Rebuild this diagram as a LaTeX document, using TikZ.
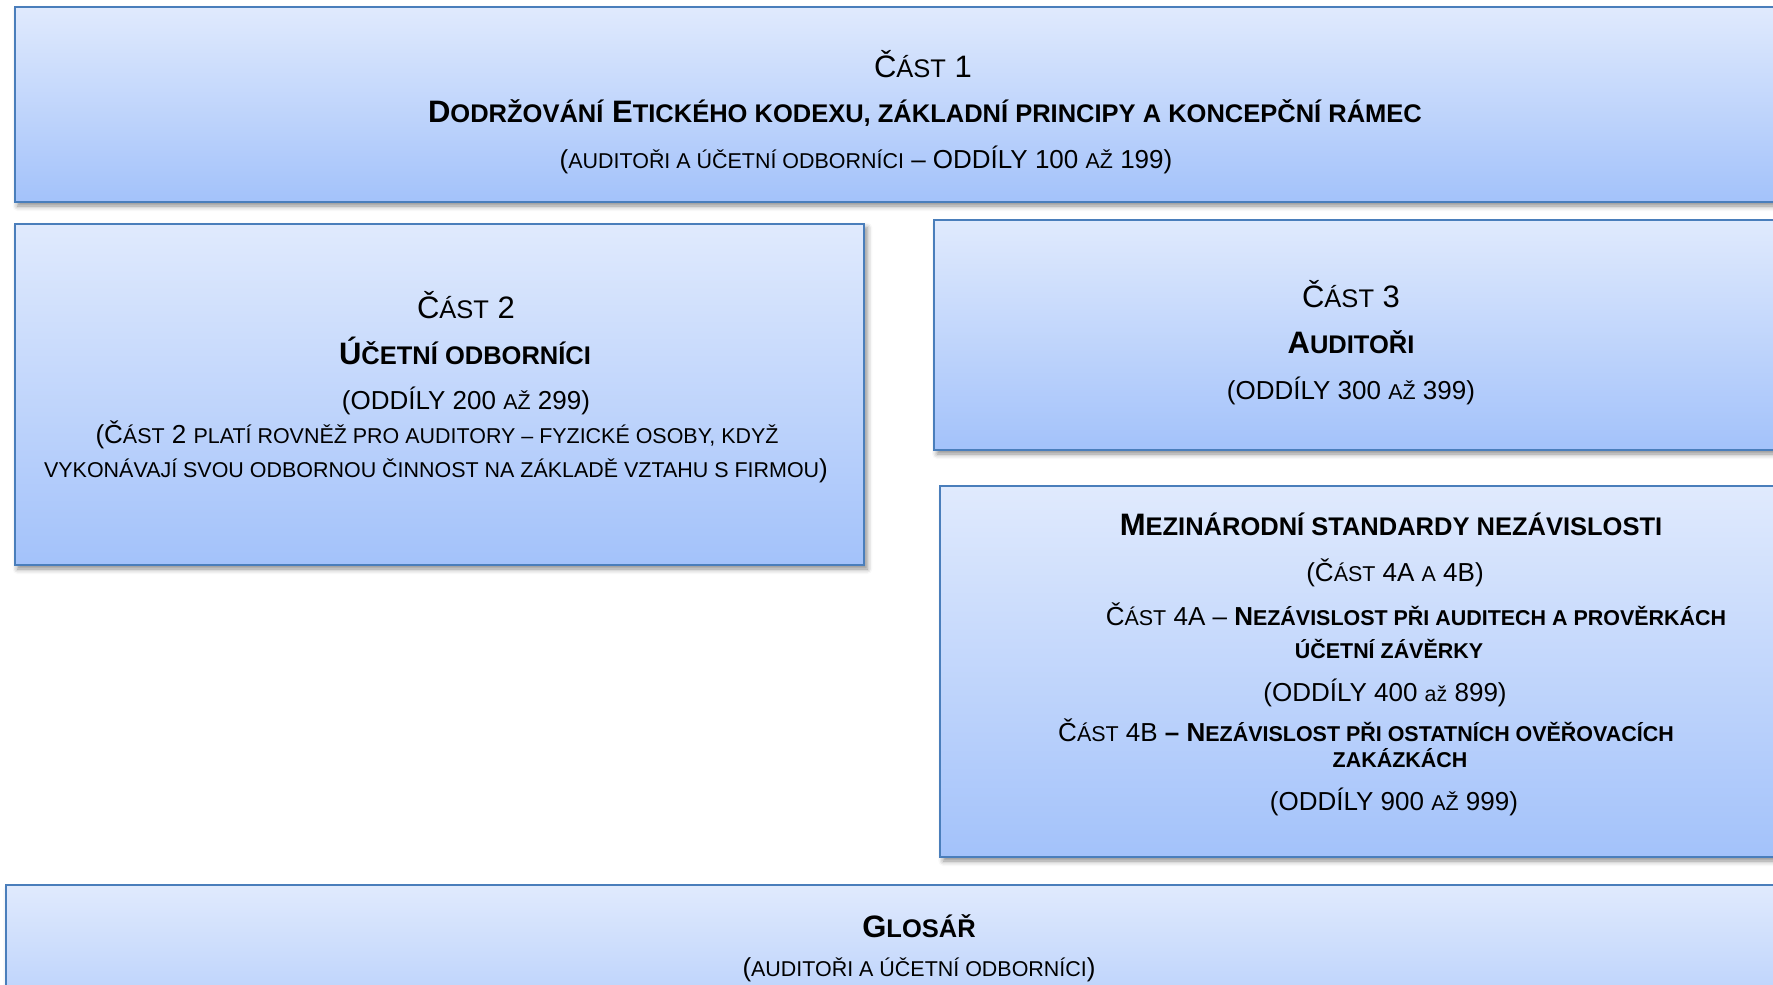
\documentclass[tikz,border=0pt]{standalone}
\usepackage{fontspec}
\setmainfont{Liberation Sans}
\usetikzlibrary{shadows.blur}
\definecolor{boxtop}{HTML}{E0EAFD}
\definecolor{boxbot}{HTML}{A3C2FA}
\definecolor{boxline}{HTML}{4A7EBB}
\newcommand\T{\fontsize{31}{37}\selectfont}
\newcommand\N{\fontsize{26}{31}\selectfont}
\newcommand\tsc[1]{{\fontsize{25.5}{30}\selectfont #1}}
\newcommand\nsc[1]{{\fontsize{21.45}{26}\selectfont #1}}
\tikzset{
  panel/.style={draw=boxline, line width=2pt, top color=boxtop, bottom color=boxbot,
    inner sep=0pt, anchor=north west,
    blur shadow={shadow xshift=3pt, shadow yshift=-4pt, shadow blur radius=5pt, shadow opacity=45}},
  txt/.style={anchor=base, inner sep=0pt, text=black}
}
\begin{document}
\begin{tikzpicture}[x=1pt, y=-1pt]
\useasboundingbox (0,0) rectangle (1773,985);
\clip (0,0) rectangle (1773,985);
% panels
\node[panel, minimum width=1821pt, minimum height=195.5pt] (b1) at (13.5,5.5) {};
\node[panel, minimum width=849.8pt, minimum height=341.3pt] (b2) at (13.5,222.7) {};
\node[panel, minimum width=902pt, minimum height=230pt] (b3) at (933,219) {};
\node[panel, minimum width=896pt, minimum height=371pt] (b4) at (939.3,485) {};
\node[panel, minimum width=1831pt, minimum height=196pt] (b5) at (4.5,884) {};
% box 1
\node[txt] (t11) at (923,77) {\T Č\tsc{ÁST} 1};
\node[txt] (t12) at (925,122) {\T\bfseries D\tsc{ODRŽOVÁNÍ} E\tsc{TICKÉHO KODEXU, ZÁKLADNÍ PRINCIPY A KONCEPČNÍ RÁMEC}};
\node[txt] (t13) at (866,168) {\N (\nsc{AUDITOŘI A ÚČETNÍ ODBORNÍCI} – ODDÍLY 100 \nsc{AŽ} 199)};
% box 2
\node[txt] (t21) at (466,318) {\T Č\tsc{ÁST} 2};
\node[txt] (t22) at (465,364) {\T\bfseries Ú\tsc{ČETNÍ ODBORNÍCI}};
\node[txt] (t23) at (466,409) {\N (ODDÍLY 200 \nsc{AŽ} 299)};
\node[txt] (t24) at (437,443) {\N (Č\nsc{ÁST} 2 \nsc{PLATÍ ROVNĚŽ PRO AUDITORY – FYZICKÉ OSOBY, KDYŽ}};
\node[txt] (t25) at (436,477) {\N \nsc{VYKONÁVAJÍ SVOU ODBORNOU ČINNOST NA ZÁKLADĚ VZTAHU S FIRMOU})};
% box 3
\node[txt] (t31) at (1351,307.5) {\T Č\tsc{ÁST} 3};
\node[txt] (t32) at (1351,353) {\T\bfseries A\tsc{UDITOŘI}};
\node[txt] (t33) at (1351,399) {\N (ODDÍLY 300 \nsc{AŽ} 399)};
% box 4
\node[txt] (t41) at (1391,535) {\T\bfseries M\tsc{EZINÁRODNÍ STANDARDY NEZÁVISLOSTI}};
\node[txt] (t42) at (1395,581) {\N (Č\nsc{ÁST} 4A \nsc{A} 4B)};
\node[txt] (t43) at (1416,625) {\N Č\nsc{ÁST} 4A – {\bfseries N\nsc{EZÁVISLOST PŘI AUDITECH A PROVĚRKÁCH}}};
\node[txt] (t44) at (1389,658) {\N\bfseries \nsc{ÚČETNÍ ZÁVĚRKY}};
\node[txt] (t45) at (1385,701) {\N (ODDÍLY 400 \nsc{až} 899)};
\node[txt] (t46) at (1366,741) {\N Č\nsc{ÁST} 4B {\bfseries – N\nsc{EZÁVISLOST PŘI OSTATNÍCH OVĚŘOVACÍCH}}};
\node[txt] (t47) at (1400,767) {\N\bfseries \nsc{ZAKÁZKÁCH}};
\node[txt] (t48) at (1394,810) {\N (ODDÍLY 900 \nsc{AŽ} 999)};
% glossary
\node[txt] (t51) at (919,937) {\T\bfseries G\tsc{LOSÁŘ}};
\node[txt] (t52) at (919,976) {\N (\nsc{AUDITOŘI A ÚČETNÍ ODBORNÍCI})};
\end{tikzpicture}
\end{document}
